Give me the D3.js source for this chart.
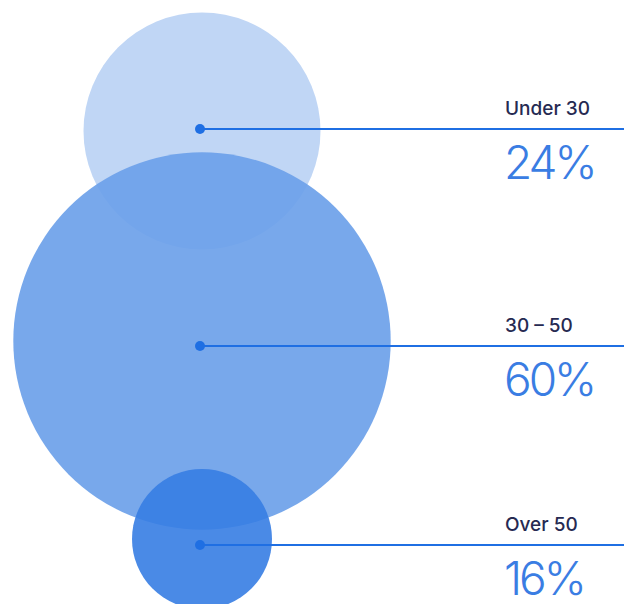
<!DOCTYPE html>
<html>
<head>
<meta charset="utf-8">
<script src="https://cdn.jsdelivr.net/npm/d3@7/dist/d3.min.js"></script>
<style>
  html, body { margin: 0; padding: 0; background: #ffffff; }
  svg { display: block; }
</style>
</head>
<body>
<svg id="chart" width="624" height="604"></svg>
<script>
// Age groups and their share of respondents
const categories = ["Under 30", "30 – 50", "Over 50"];
const values = [24, 60, 16];

const fills = ["rgb(192,214,245)", "rgb(108,161,233)", "rgb(54,125,227)"];
const fillOpacity = [1, 0.92, 0.9];

const width = 624, height = 604;
const svg = d3.select("#chart");

// Bubble radius by share
const r = d3.scaleLinear().domain([16, 24, 60]).range([70, 118.5, 188.7]);

// Vertical placement of bubbles and of the leader rows
const bubbleY = d3.scaleOrdinal(categories, [131, 341, 539]);
const rowY = d3.scaleOrdinal(categories, [129, 346, 545]);
const cx = 202, dotX = 200, labelX = 505;

const data = categories.map((c, i) => ({ cat: c, value: values[i], i }));

svg.append("g").selectAll("circle")
  .data(data)
  .join("circle")
  .attr("cx", cx)
  .attr("cy", d => bubbleY(d.cat))
  .attr("r", d => r(d.value))
  .attr("fill", d => fills[d.i])
  .attr("fill-opacity", d => fillOpacity[d.i]);

const rows = svg.append("g").selectAll("g")
  .data(data)
  .join("g")
  .attr("transform", d => `translate(0,${rowY(d.cat)})`);

rows.append("line")
  .attr("x1", dotX).attr("x2", width)
  .attr("y1", 0).attr("y2", 0)
  .attr("stroke", "#1f6fe3")
  .attr("stroke-width", 2);

rows.append("circle")
  .attr("cx", dotX).attr("cy", 0)
  .attr("r", 5)
  .attr("fill", "#1f6fe3");

rows.append("text")
  .attr("x", labelX).attr("y", -14.5)
  .attr("font-family", "Inter, 'Noto Sans', sans-serif")
  .attr("font-size", 19)
  .attr("font-weight", 500)
  .attr("fill", "#262a52")
  .text(d => d.cat);

rows.append("text")
  .attr("x", labelX - 1).attr("y", 49.5)
  .attr("font-family", "Inter, 'Noto Sans', sans-serif")
  .attr("font-size", 46)
  .attr("font-weight", 300)
  .attr("letter-spacing", -3)
  .attr("fill", "#3a7de3")
  .text(d => d.value + "%");
</script>
</body>
</html>
